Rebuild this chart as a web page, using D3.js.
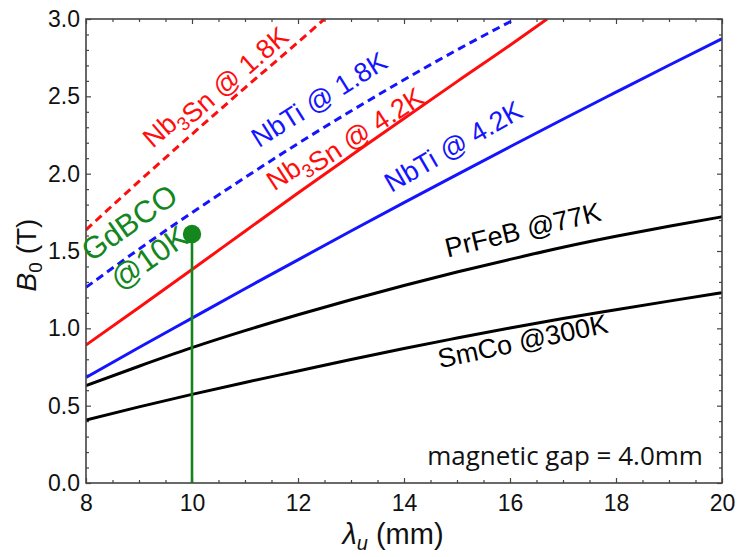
<!DOCTYPE html>
<html><head><meta charset="utf-8">
<script src="https://cdn.jsdelivr.net/npm/d3@7"></script>
<style>body{margin:0;background:#fff}</style>
</head><body><svg id="c" width="737" height="557"></svg>
<script>
// ---------- data ----------
const lambdaAll   = [8, 9, 10, 11, 12, 13, 14, 15, 16, 17, 18, 19, 20];
const smCo300K    = [0.407, 0.492, 0.573, 0.650, 0.724, 0.798, 0.870, 0.937, 1.002, 1.063, 1.120, 1.176, 1.230];
const prFeB77K    = [0.629, 0.755, 0.875, 0.985, 1.088, 1.185, 1.277, 1.364, 1.446, 1.524, 1.595, 1.660, 1.721];
const nbTi42K     = [0.683, 0.876, 1.066, 1.256, 1.443, 1.629, 1.813, 1.994, 2.174, 2.352, 2.527, 2.701, 2.872];
const lambdaNb3Sn42K = [8, 9, 10, 11, 12, 13, 14, 15, 16, 16.7];
const nb3Sn42K       = [0.892, 1.135, 1.380, 1.628, 1.875, 2.117, 2.357, 2.595, 2.830, 3.0];
const lambdaNbTi18K  = [8, 9, 10, 11, 12, 13, 14, 15, 16, 16.1];
const nbTi18K        = [1.265, 1.512, 1.748, 1.975, 2.195, 2.405, 2.607, 2.800, 2.982, 3.0];
const lambdaNb3Sn18K = [8, 9, 10, 11, 12, 12.5];
const nb3Sn18K       = [1.637, 1.950, 2.255, 2.555, 2.850, 3.0];
const gdbcoLambda = [10];
const gdbcoB      = [1.61];
const xTickValues = [8, 10, 12, 14, 16, 18, 20];
const xTickLabels = ["8", "10", "12", "14", "16", "18", "20"];
const yTickValues = [0, 0.5, 1.0, 1.5, 2.0, 2.5, 3.0];
const yTickLabels = ["0.0", "0.5", "1.0", "1.5", "2.0", "2.5", "3.0"];

// ---------- layout ----------
const L = 86, R = 722, T = 19, B = 483;
const svg = d3.select("#c");
const x = d3.scaleLinear().domain([8, 20]).range([L, R]);
const y = d3.scaleLinear().domain([0, 3]).range([B, T]);
const RED = "#ff0d0d", BLUE = "#1414ff", GREEN = "#14861e", BLACK = "#000";
const tickFont = "'Liberation Sans', Arial, sans-serif";

svg.append("defs").append("clipPath").attr("id", "clip")
  .append("rect").attr("x", L).attr("y", T).attr("width", R - L).attr("height", B - T);

// ---------- axes / ticks ----------
function styleAxis(g) {
  g.select(".domain").remove();
  g.selectAll(".tick line").attr("stroke", "#444").attr("stroke-width", 1.2);
  g.selectAll(".tick text").attr("font-family", tickFont).attr("font-size", 23).attr("fill", "#111");
}
const xMinor = d3.range(8, 20.01, 0.5).filter(v => Math.abs(v % 2) > 1e-6);
const yMinor = d3.range(0, 3.001, 0.1).map(v => +v.toFixed(1)).filter(v => Math.abs((v * 10) % 5) > 1e-6);

svg.append("g").attr("transform", `translate(0,${B})`)
  .call(d3.axisBottom(x).tickValues(xTickValues).tickFormat((d, i) => xTickLabels[i]).tickSize(-5).tickPadding(12)).call(styleAxis);
svg.append("g").attr("transform", `translate(0,${B})`)
  .call(d3.axisBottom(x).tickValues(xMinor).tickFormat("").tickSize(-3)).call(styleAxis);
svg.append("g").attr("transform", `translate(0,${T})`)
  .call(d3.axisTop(x).tickValues(xTickValues).tickFormat("").tickSize(-5)).call(styleAxis);
svg.append("g").attr("transform", `translate(0,${T})`)
  .call(d3.axisTop(x).tickValues(xMinor).tickFormat("").tickSize(-3)).call(styleAxis);
svg.append("g").attr("transform", `translate(${L},0)`)
  .call(d3.axisLeft(y).tickValues(yTickValues).tickFormat((d, i) => yTickLabels[i]).tickSize(-5).tickPadding(6)).call(styleAxis);
svg.append("g").attr("transform", `translate(${L},0)`)
  .call(d3.axisLeft(y).tickValues(yMinor).tickFormat("").tickSize(-3)).call(styleAxis);
svg.append("g").attr("transform", `translate(${R},0)`)
  .call(d3.axisRight(y).tickValues(yTickValues).tickFormat("").tickSize(-5)).call(styleAxis);
svg.append("g").attr("transform", `translate(${R},0)`)
  .call(d3.axisRight(y).tickValues(yMinor).tickFormat("").tickSize(-3)).call(styleAxis);

// ---------- curves ----------
const line = d3.line().x(d => x(d[0])).y(d => y(d[1])).curve(d3.curveMonotoneX);
const series = [
  { xs: lambdaAll, ys: smCo300K, color: BLACK, dash: null },
  { xs: lambdaAll, ys: prFeB77K, color: BLACK, dash: null },
  { xs: lambdaAll, ys: nbTi42K, color: BLUE, dash: null },
  { xs: lambdaNb3Sn42K, ys: nb3Sn42K, color: RED, dash: null },
  { xs: lambdaNbTi18K, ys: nbTi18K, color: BLUE, dash: "8,5" },
  { xs: lambdaNb3Sn18K, ys: nb3Sn18K, color: RED, dash: "8,5" }
];
const plot = svg.append("g").attr("clip-path", "url(#clip)");
series.forEach(s => {
  plot.append("path").datum(s.xs.map((v, i) => [v, s.ys[i]]))
    .attr("d", line).attr("fill", "none").attr("stroke", s.color)
    .attr("stroke-width", 3).attr("stroke-dasharray", s.dash);
});

// GdBCO point with stem
gdbcoLambda.forEach((lv, i) => {
  plot.append("line").attr("x1", x(lv)).attr("x2", x(lv)).attr("y1", y(0)).attr("y2", y(gdbcoB[i]))
    .attr("stroke", GREEN).attr("stroke-width", 2.6);
  plot.append("circle").attr("cx", x(lv)).attr("cy", y(gdbcoB[i])).attr("r", 9.2).attr("fill", GREEN);
});

// ---------- frame ----------
svg.append("rect").attr("x", L).attr("y", T).attr("width", R - L).attr("height", B - T)
  .attr("fill", "none").attr("stroke", "#444").attr("stroke-width", 1.6);

// ---------- labels ----------
function label(parts, lx, ly, angle, color, size, font) {
  const t = svg.append("text")
    .attr("transform", `translate(${x(lx)},${y(ly)}) rotate(${angle})`)
    .attr("fill", color).attr("font-size", size)
    .attr("font-family", font || tickFont);
  parts.forEach(p => {
    if (p.sub) {
      t.append("tspan").attr("dy", size * 0.28).attr("font-size", size * 0.7).text(p.t);
      t.append("tspan").attr("dy", -size * 0.28).text("");
    } else {
      t.append("tspan").text(p.t);
    }
  });
  return t;
}
label([{ t: "Nb" }, { t: "3", sub: true }, { t: "Sn @ 1.8K" }], 9.26, 2.16, -41, RED, 27);
label([{ t: "NbTi @ 1.8K" }], 11.26, 2.165, -32, BLUE, 27);
label([{ t: "Nb" }, { t: "3", sub: true }, { t: "Sn @ 4.2K" }], 11.55, 1.885, -33, RED, 27);
label([{ t: "NbTi @ 4.2K" }], 13.76, 1.875, -30, BLUE, 27);
label([{ t: "PrFeB @77K" }], 14.82, 1.458, -13.5, BLACK, 27);
label([{ t: "SmCo @300K" }], 14.68, 0.742, -12, BLACK, 27);

// GdBCO two-line label
const gd = svg.append("g").attr("transform", `translate(${x(8.094)},${y(1.425)}) rotate(-35)`)
  .attr("fill", GREEN).attr("font-family", tickFont).attr("font-size", 31);
gd.append("text").attr("x", 0).attr("y", 0).text("GdBCO");
gd.append("text").attr("x", 7).attr("y", 40).text("@10K");

// magnetic gap note
svg.append("text").attr("x", x(19.64)).attr("y", y(0.116)).attr("text-anchor", "end")
  .attr("font-family", "'Open Sans', sans-serif").attr("font-size", 26).attr("fill", "#111")
  .text("magnetic gap = 4.0mm");

// axis titles
const xt = svg.append("text").attr("x", 393).attr("y", 544).attr("text-anchor", "middle")
  .attr("font-family", tickFont).attr("font-size", 29).attr("fill", "#111");
xt.append("tspan").attr("font-style", "italic").text("λ");
xt.append("tspan").attr("font-style", "italic").attr("font-size", 20).attr("dy", 6).text("u");
xt.append("tspan").attr("dy", -6).text(" (mm)");

const yt = svg.append("text").attr("transform", "translate(36,255) rotate(-90)").attr("text-anchor", "middle")
  .attr("font-family", tickFont).attr("font-size", 28).attr("fill", "#111");
yt.append("tspan").attr("font-style", "italic").text("B");
yt.append("tspan").attr("font-size", 19).attr("dy", 6).text("0");
yt.append("tspan").attr("dy", -6).text(" (T)");
</script>
</body></html>
